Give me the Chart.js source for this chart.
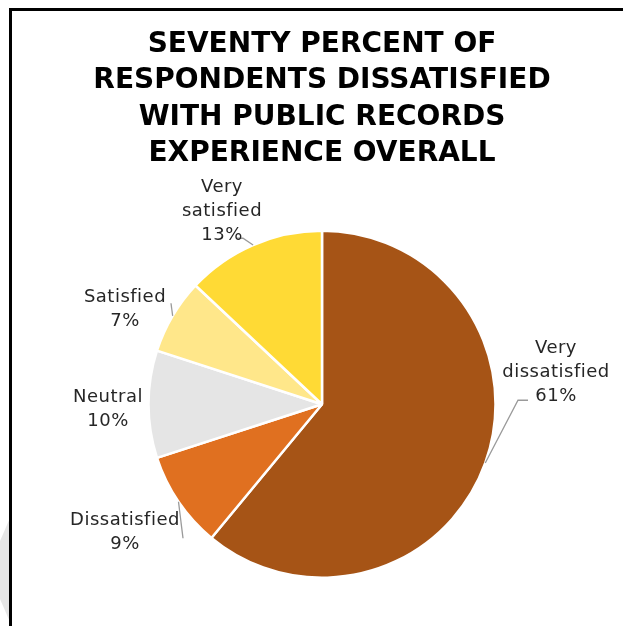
<!DOCTYPE html>
<html>
<head>
<meta charset="utf-8">
<script src="https://cdn.jsdelivr.net/npm/chart.js@4.4.0/dist/chart.umd.min.js"></script>
<style>
  html, body { margin: 0; padding: 0; background: #fff; }
  body { width: 623px; height: 626px; position: relative; overflow: hidden; }
  .frame { position: absolute; left: 9px; top: 8px; right: -5px; bottom: -5px;
           border-left: 3px solid #000; border-top: 3px solid #000; }
  .chevron { position: absolute; left: 0; top: 518px; width: 10px; height: 104px; background: #e6e6e6;
             clip-path: polygon(100% 0, 0 22%, 0 78%, 100% 100%); }
  canvas { position: absolute; left: 0; top: 0; }
</style>
</head>
<body>
<div class="chevron"></div>
<div class="frame"></div>
<canvas id="pie" width="623" height="626"></canvas>
<script>
var categories = ['Very dissatisfied', 'Dissatisfied', 'Neutral', 'Satisfied', 'Very satisfied'];
var shares = [61, 9, 10, 7, 13];
var labelLines = [['Very', 'dissatisfied'], ['Dissatisfied'], ['Neutral'], ['Satisfied'], ['Very', 'satisfied']];
var titleLines = ['SEVENTY PERCENT OF', 'RESPONDENTS DISSATISFIED', 'WITH PUBLIC RECORDS', 'EXPERIENCE OVERALL'];

var colors = ['#a65416', '#e07020', '#e5e5e5', '#ffe78a', '#ffda35'];
var font = '"DejaVu Sans", sans-serif';

// where each label sits relative to the pie centre, and how its leader line bends
var placement = [
  { dx: 234, dy: -32, leader: [[-38, 28], [-28, 28]] },
  { dx: -197, dy: 128, leader: [[58, 6]] },
  { dx: -214, dy: 5, leader: null },
  { dx: -197, dy: -95, leader: [[46, -6]] },
  { dx: -100, dy: -193, leader: [[21, 27], [15, 27]] }
];

var outsideLabels = {
  id: 'outsideLabels',
  afterDatasetsDraw: function(chart){
    var ctx = chart.ctx;
    var arcs = chart.getDatasetMeta(0).data;
    ctx.save();
    arcs.forEach(function(arc, i){
      var p = placement[i];
      var lx = arc.x + p.dx, ly = arc.y + p.dy;
      var mid = (arc.startAngle + arc.endAngle) / 2;
      if (p.leader) {
        ctx.strokeStyle = '#9a9a9a';
        ctx.lineWidth = 1.3;
        ctx.beginPath();
        ctx.moveTo(arc.x + Math.cos(mid) * arc.outerRadius, arc.y + Math.sin(mid) * arc.outerRadius);
        p.leader.forEach(function(pt){ ctx.lineTo(lx + pt[0], ly + pt[1]); });
        ctx.stroke();
      }
      var lines = labelLines[i].concat([shares[i] + '%']);
      var lh = 24;
      ctx.fillStyle = '#262626';
      ctx.font = '18px ' + font;
      ctx.letterSpacing = '0.5px';
      ctx.textAlign = 'center';
      ctx.textBaseline = 'middle';
      lines.forEach(function(t, k){
        ctx.fillText(t, lx, ly + (k - (lines.length - 1) / 2) * lh);
      });
    });
    ctx.restore();
  }
};

new Chart(document.getElementById('pie'), {
  type: 'pie',
  data: {
    labels: categories,
    datasets: [{
      data: shares,
      backgroundColor: colors,
      borderColor: '#ffffff',
      borderWidth: 2.5,
      hoverOffset: 0
    }]
  },
  options: {
    responsive: false,
    animation: false,
    layout: { padding: { left: 21, right: 0, top: 0, bottom: 47 } },
    plugins: {
      legend: { display: false },
      tooltip: { enabled: false },
      title: {
        display: true,
        text: titleLines,
        color: '#000',
        font: { family: font, size: 28, weight: 'bold', lineHeight: 1.29 },
        padding: { top: 27, bottom: 58 }
      }
    }
  },
  plugins: [outsideLabels]
});
</script>
</body>
</html>
